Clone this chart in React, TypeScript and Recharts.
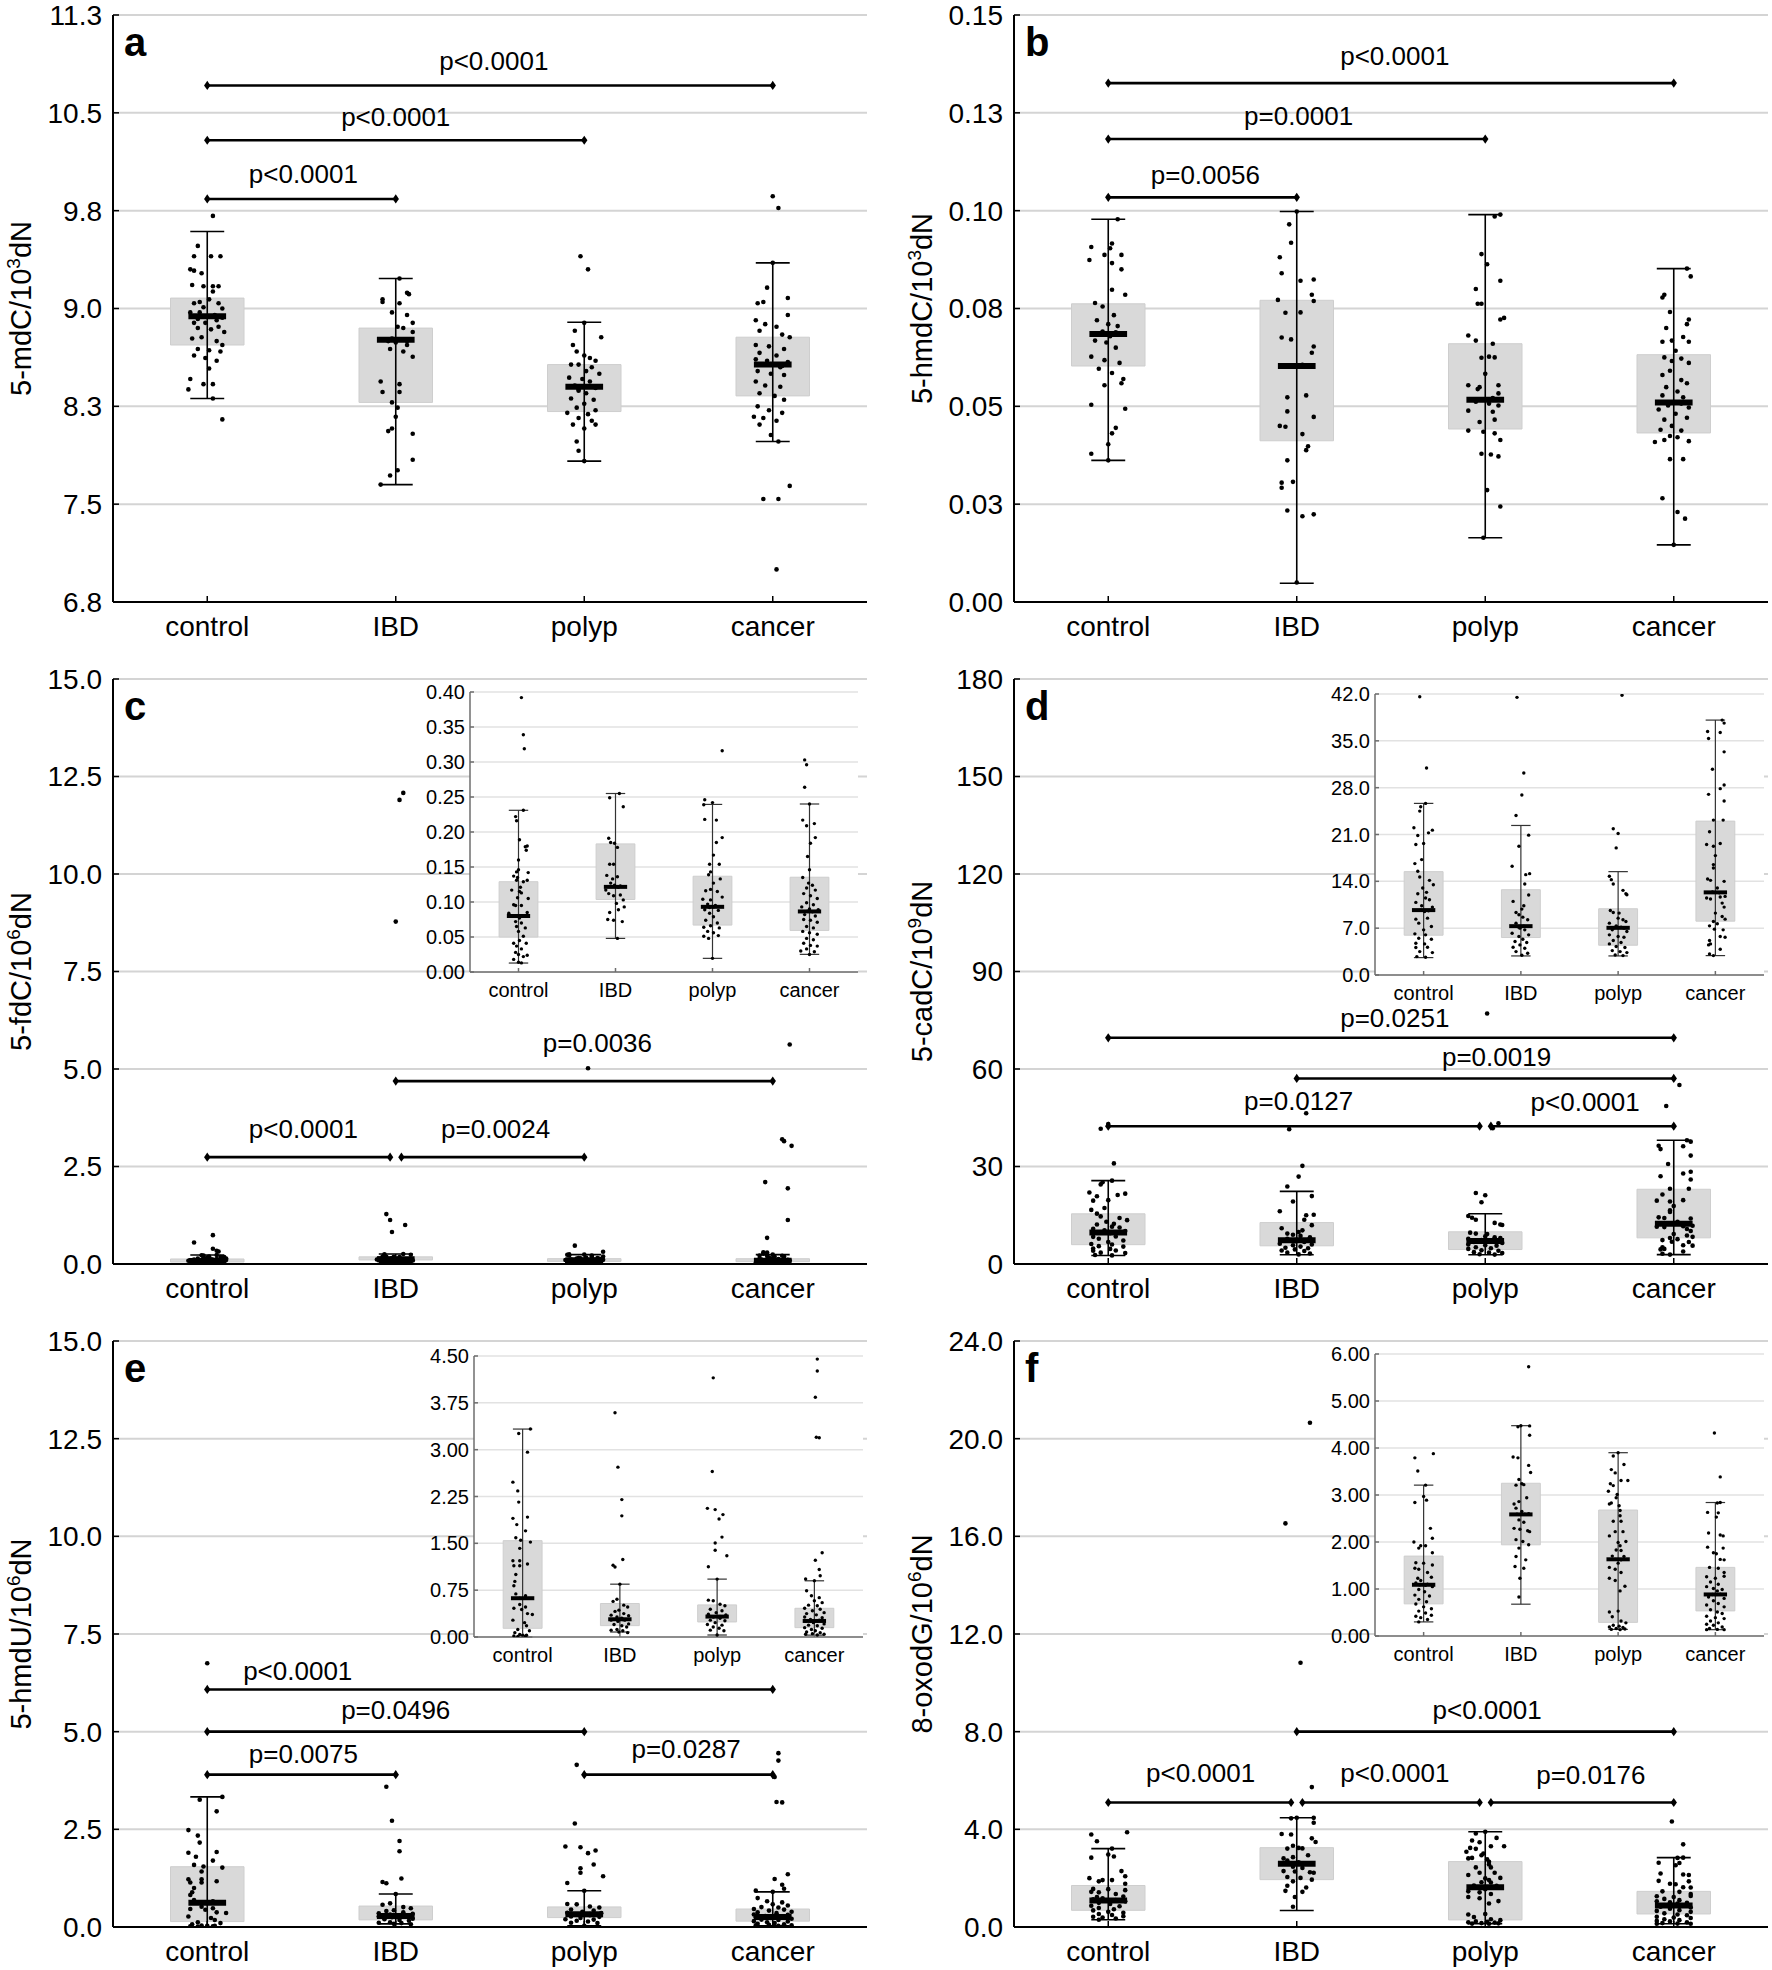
import React from 'react';
import { ComposedChart, XAxis, YAxis, CartesianGrid, Scatter, ReferenceArea, ReferenceLine } from 'recharts';

type Pt = [number, number]; // [value, jitter in category units]
type Stat = [number, number, number, number, number]; // whisker low, q1, median, q3, whisker high
// from group, to group, bracket height, label, label centre (category units), label baseline (value)
type Bracket = [number, number, number, string, number, number];

const GROUPS = ['control', 'IBD', 'polyp', 'cancer'];
const CAT_TICKS = [0, 1, 2, 3];
const FONT = '"Liberation Sans", Arial, Helvetica, sans-serif';

// ---------- a: 5-mdC ----------
const A_TICKS = [6.8, 7.55, 8.3, 9.05, 9.8, 10.55, 11.3];
const A_TICK_LABELS = ['6.8', '7.5', '8.3', '9.0', '9.8', '10.5', '11.3'];
const A_STATS: Stat[] = [
  [8.36, 8.77, 8.99, 9.13, 9.64],
  [7.7, 8.33, 8.81, 8.9, 9.28],
  [7.88, 8.26, 8.45, 8.62, 8.945],
  [8.03, 8.38, 8.62, 8.83, 9.4],
];
const A_BRACKETS: Bracket[] = [
  [0, 1, 9.89, 'p<0.0001', 0.51, 10.01],
  [0, 2, 10.34, 'p<0.0001', 1.0, 10.45],
  [0, 3, 10.76, 'p<0.0001', 1.52, 10.875],
];
const A_CONTROL: Pt[] = [[9.76,.03],[9.53,-.05],[9.45,-.07],[9.45,.02],[9.45,.07],[9.35,-.09],[9.34,-.07],[9.32,-.03],[9.23,-.08],[9.22,-.02],[9.22,.03],[9.22,.06],[9.18,.03],[9.12,.01],[9.1,-.04],[9.09,.06],[9.09,-.07],[9.06,-.02],[9.05,.08],[9.02,-.09],[9.02,-.04],[9.0,.04],[8.99,-.01],[8.99,.02],[8.98,.08],[8.97,-.05],[8.96,.05],[8.94,-.07],[8.94,-.01],[8.91,.06],[8.9,-.05],[8.89,.02],[8.87,.09],[8.83,-.03],[8.82,-.08],[8.8,.05],[8.77,.08],[8.74,-.05],[8.73,.01],[8.72,.07],[8.69,-.07],[8.67,-.01],[8.65,.05],[8.59,.01],[8.51,-.09],[8.47,-.02],[8.47,.03],[8.43,-.1],[8.36,.03],[8.2,.08]];
const A_IBD: Pt[] = [[9.28,.02],[9.17,.06],[9.16,.07],[9.12,-.07],[9.1,-.07],[9.09,.02],[9.02,-.02],[9.0,.06],[8.94,.09],[8.91,.01],[8.9,.04],[8.87,.09],[8.82,-.02],[8.81,.03],[8.8,-.04],[8.8,.06],[8.79,0],[8.77,.06],[8.74,-.03],[8.72,.04],[8.68,.09],[8.49,-.08],[8.47,.02],[8.41,-.07],[8.41,.02],[8.33,-.02],[8.29,.01],[8.22,0],[8.13,-.02],[8.11,-.04],[8.09,.09],[7.89,.09],[7.81,.01],[7.77,-.03],[7.7,-.08]];
const A_POLYP: Pt[] = [[9.45,-.02],[9.35,.02],[8.94,0],[8.88,-.05],[8.83,.09],[8.77,-.06],[8.72,-.04],[8.69,0],[8.67,.03],[8.65,.06],[8.62,-.07],[8.62,-.03],[8.6,.04],[8.57,.01],[8.55,.08],[8.52,-.08],[8.51,-.01],[8.49,.03],[8.46,-.05],[8.45,.01],[8.44,.06],[8.43,-.03],[8.42,-.03],[8.4,.01],[8.36,-.07],[8.35,.05],[8.32,0],[8.29,-.04],[8.27,.06],[8.25,-.09],[8.24,.02],[8.21,-.03],[8.19,.04],[8.16,-.06],[8.16,.06],[8.13,0],[8.03,-.04],[7.96,-.03],[7.88,0]];
const A_CANCER: Pt[] = [[9.91,0],[9.82,.03],[9.4,0],[9.21,-.03],[9.13,.08],[9.1,-.05],[9.09,-.08],[9.0,.08],[8.96,-.09],[8.93,-.04],[8.91,.02],[8.88,-.07],[8.85,.05],[8.83,.09],[8.77,-.09],[8.76,-.02],[8.74,.06],[8.71,-.07],[8.69,.02],[8.66,-.09],[8.65,-.03],[8.64,.08],[8.62,-.05],[8.62,.01],[8.61,.05],[8.6,.04],[8.57,-.08],[8.55,-.01],[8.54,.06],[8.49,-.09],[8.46,-.04],[8.45,.04],[8.4,-.07],[8.38,.01],[8.35,.06],[8.3,-.08],[8.27,-.02],[8.25,.05],[8.22,-.1],[8.21,-.05],[8.19,.02],[8.16,-.07],[8.08,-.01],[8.03,.03],[7.69,.09],[7.59,-.05],[7.59,.03],[7.05,.02]];

// ---------- b: 5-hmdC ----------
const B_TICKS = [0, 0.025, 0.05, 0.075, 0.1, 0.125, 0.15];
const B_TICK_LABELS = ['0.00', '0.03', '0.05', '0.08', '0.10', '0.13', '0.15'];
const B_STATS: Stat[] = [
  [0.0362, 0.0603, 0.0685, 0.0762, 0.0978],
  [0.0048, 0.0412, 0.0603, 0.0771, 0.0998],
  [0.0164, 0.0442, 0.0517, 0.066, 0.099],
  [0.0146, 0.0432, 0.051, 0.0632, 0.0852],
];
const B_BRACKETS: Bracket[] = [
  [0, 1, 0.1034, 'p=0.0056', 0.515, 0.1067],
  [0, 2, 0.1183, 'p=0.0001', 1.01, 0.1219],
  [0, 3, 0.1326, 'p<0.0001', 1.52, 0.1371],
];
const B_CONTROL: Pt[] = [[.0978,.05],[.0916,.02],[.0907,-.09],[.0904,.01],[.0887,-.02],[.0887,.07],[.0874,-.1],[.0866,.02],[.085,.07],[.0798,.02],[.0785,.09],[.0764,-.07],[.0755,-.03],[.0733,.03],[.072,-.06],[.071,0],[.0705,.05],[.0691,-.03],[.0689,.04],[.0687,-.04],[.0684,.08],[.0679,.01],[.0668,-.07],[.0663,-.01],[.065,.04],[.0627,-.09],[.0618,-.02],[.0611,.06],[.0596,-.05],[.0585,.02],[.057,.08],[.0559,.07],[.0554,-.02],[.0504,-.09],[.0494,.09],[.0445,.04],[.0431,.02],[.0403,0],[.0379,-.09],[.0362,0]];
const B_IBD: Pt[] = [[.0998,0],[.0965,-.04],[.0918,-.03],[.0881,-.09],[.0824,.09],[.0821,.02],[.084,-.08],[.0785,.08],[.0772,-.1],[.0769,.09],[.074,.02],[.0739,-.06],[.0676,-.08],[.0671,-.03],[.0653,.09],[.0637,.08],[.0606,.03],[.0603,-.04],[.0528,.05],[.0523,-.05],[.0487,-.05],[.0473,.09],[.045,-.09],[.0448,-.06],[.0429,.03],[.0398,.06],[.0388,.05],[.0362,-.05],[.0307,-.02],[.0305,-.08],[.0292,-.08],[.0234,-.05],[.0224,.09],[.0219,.03],[.005,0]];
const B_POLYP: Pt[] = [[.099,.08],[.0985,.05],[.0889,-.02],[.0863,.01],[.0821,.08],[.08,-.05],[.0762,-.04],[.0762,-.02],[.0726,.1],[.0722,.08],[.0681,-.09],[.0668,-.05],[.066,.04],[.0627,.02],[.0625,.05],[.0624,-.02],[.0583,0],[.0554,-.09],[.0554,.07],[.0549,-.03],[.0544,-.04],[.0533,.07],[.0521,.04],[.0517,-.03],[.0512,-.05],[.0507,.02],[.0502,.07],[.0489,-.09],[.0486,.04],[.0466,.05],[.046,-.03],[.0438,-.09],[.0435,-.01],[.0431,.05],[.0414,.08],[.0379,-.02],[.0377,.03],[.0372,.07],[.0286,.01],[.0244,.08],[.0164,-.01]];
const B_CANCER: Pt[] = [[.0852,.07],[.0832,.09],[.0785,-.05],[.0778,-.06],[.0741,-.02],[.0722,.08],[.071,.07],[.07,-.04],[.0677,.05],[.0668,-.01],[.0665,-.06],[.0665,.08],[.0642,.01],[.0625,-.05],[.0622,.04],[.0616,-.01],[.0611,.08],[.0591,-.02],[.058,-.06],[.0567,.04],[.0559,.07],[.0549,-.04],[.0538,.02],[.0528,-.06],[.0523,.05],[.051,-.04],[.0507,.04],[.0502,-.03],[.0497,.08],[.0492,-.08],[.0481,.01],[.0471,.07],[.0466,-.05],[.045,-.01],[.044,-.07],[.0438,.04],[.0424,-.02],[.0421,.02],[.0414,-.05],[.0411,.08],[.0409,-.1],[.0365,-.02],[.0365,.05],[.0265,-.06],[.023,.02],[.0213,.06],[.0146,0]];

// ---------- c: 5-fdC ----------
const C_TICKS = [0, 2.5, 5, 7.5, 10, 12.5, 15];
const C_TICK_LABELS = ['0.0', '2.5', '5.0', '7.5', '10.0', '12.5', '15.0'];
const C_INSET_TICKS = [0, 0.05, 0.1, 0.15, 0.2, 0.25, 0.3, 0.35, 0.4];
const C_INSET_LABELS = ['0.00', '0.05', '0.10', '0.15', '0.20', '0.25', '0.30', '0.35', '0.40'];
const C_STATS: Stat[] = [
  [0.0128, 0.05, 0.08, 0.129, 0.231],
  [0.048, 0.1036, 0.1216, 0.183, 0.255],
  [0.0195, 0.067, 0.0931, 0.1368, 0.2394],
  [0.0252, 0.0594, 0.0865, 0.1354, 0.24],
];
const C_BRACKETS: Bracket[] = [
  [0, 1, 2.74, 'p<0.0001', 0.51, 3.22],
  [1, 2, 2.74, 'p=0.0024', 1.53, 3.22],
  [1, 3, 4.69, 'p=0.0036', 2.07, 5.44],
];
const C_CONTROL: Pt[] = [[.74,.03],[.55,-.07],[.392,.03],[.339,.05],[.319,.06],[.231,.05],[.222,-.03],[.216,-.02],[.189,.01],[.18,.09],[.179,.07],[.174,.08],[.16,0],[.146,0],[.143,-.02],[.142,.1],[.137,-.05],[.135,-.01],[.131,-.02],[.131,.09],[.129,.05],[.121,.02],[.117,-.07],[.115,.01],[.113,.03],[.106,-.01],[.105,.1],[.096,-.05],[.095,-.03],[.095,.03],[.085,.09],[.084,-.1],[.08,.05],[.077,.01],[.072,-.03],[.07,.03],[.065,-.02],[.063,.07],[.058,0],[.051,.05],[.045,.01],[.041,-.05],[.041,.08],[.037,-.02],[.033,.03],[.028,-.03],[.025,0],[.024,.09],[.022,.05],[.018,-.05],[.014,0],[.013,.03]];
const C_IBD: Pt[] = [[12.08,.04],[11.9,.02],[8.78,0],[1.28,-.05],[1.13,-.03],[1.0,.05],[.82,-.02],[.255,.04],[.249,-.06],[.236,.08],[.191,-.07],[.185,-.05],[.184,-.01],[.178,.02],[.154,-.06],[.154,-.02],[.138,-.09],[.136,.02],[.133,-.03],[.127,-.05],[.124,-.01],[.123,.05],[.121,.03],[.117,-.1],[.112,-.07],[.11,.05],[.109,-.02],[.103,.08],[.098,.01],[.093,.09],[.089,.03],[.085,-.06],[.075,-.08],[.074,-.02],[.072,.07],[.048,.02]];
const C_POLYP: Pt[] = [[5.02,.02],[.47,-.05],[.316,.1],[.246,-.08],[.242,0],[.239,-.09],[.218,-.08],[.217,.04],[.192,.1],[.185,.04],[.167,.01],[.154,-.03],[.154,.07],[.143,-.02],[.139,-.04],[.133,.08],[.127,.01],[.118,-.02],[.116,-.07],[.115,.05],[.107,.1],[.104,-.1],[.103,-.02],[.097,-.05],[.095,.03],[.093,.01],[.092,-.03],[.089,-.08],[.088,.06],[.084,-.03],[.079,.01],[.074,-.07],[.07,.05],[.066,-.02],[.064,-.09],[.063,.07],[.058,-.05],[.056,.01],[.052,.06],[.051,-.09],[.048,-.04],[.0195,0]];
const C_CANCER: Pt[] = [[5.63,.09],[3.2,.05],[3.15,.06],[3.03,.1],[2.1,-.04],[1.94,.08],[1.13,.08],[.67,-.03],[.303,-.05],[.296,-.03],[.264,-.05],[.24,0],[.217,-.07],[.212,.05],[.209,-.03],[.192,.06],[.184,.01],[.165,-.02],[.146,0],[.135,-.07],[.127,-.01],[.124,.03],[.12,-.03],[.117,.06],[.112,-.06],[.109,.01],[.105,.08],[.099,-.03],[.096,.04],[.093,-.08],[.09,0],[.089,.09],[.087,-.02],[.086,.03],[.082,-.05],[.08,.06],[.075,-.06],[.074,.01],[.071,.08],[.065,-.03],[.063,.04],[.058,-.07],[.056,0],[.054,.08],[.048,-.03],[.046,.04],[.041,-.06],[.038,.01],[.037,.08],[.033,-.03],[.03,-.09],[.029,.05],[.025,0]];

// ---------- d: 5-cadC ----------
const D_TICKS = [0, 30, 60, 90, 120, 150, 180];
const D_TICK_LABELS = ['0', '30', '60', '90', '120', '150', '180'];
const D_INSET_TICKS = [0, 7, 14, 21, 28, 35, 42];
const D_INSET_LABELS = ['0.0', '7.0', '14.0', '21.0', '28.0', '35.0', '42.0'];
const D_STATS: Stat[] = [
  [2.6, 5.95, 9.7, 15.45, 25.65],
  [2.85, 5.6, 7.3, 12.75, 22.35],
  [2.85, 4.45, 7.05, 9.9, 15.45],
  [2.9, 8.05, 12.35, 23.0, 38.1],
];
const D_BRACKETS: Bracket[] = [
  [0, 3, 69.6, 'p=0.0251', 1.52, 73.0],
  [1, 3, 57.1, 'p=0.0019', 2.06, 60.9],
  [0, 2, 42.4, 'p=0.0127', 1.01, 47.4],
  [2, 3, 42.4, 'p<0.0001', 2.53, 47.2],
];
const D_CONTROL: Pt[] = [[43.1,0],[41.6,-.04],[30.95,.03],[25.65,.02],[25.15,-.03],[24.5,-.04],[22.0,-.1],[21.65,.09],[21.25,.05],[20.85,-.06],[19.65,0],[19.5,-.08],[17.25,-.02],[16.65,-.09],[15.5,-.06],[14.65,-.04],[14.15,.06],[13.5,.1],[13.0,-.01],[12.35,.03],[12.15,-.06],[11.5,.02],[11.25,.06],[10.85,-.08],[10.35,-.02],[10.15,.09],[9.7,-.03],[9.6,.05],[9.5,.01],[8.5,.04],[8.35,-.08],[7.75,-.05],[7.25,.08],[6.75,0],[6.15,-.09],[6.0,.02],[5.5,-.05],[5.35,.08],[4.75,-.08],[4.65,.01],[4.15,.04],[4.1,-.08],[3.5,-.04],[3.35,.09],[2.75,-.07],[2.65,.02]];
const D_IBD: Pt[] = [[46.4,.05],[41.5,-.04],[30.2,.03],[26.9,.01],[23.85,-.05],[20.9,.08],[19.25,-.02],[16.25,-.09],[15.15,.09],[15.0,.05],[13.6,.04],[11.95,.08],[11.0,-.08],[10.35,.03],[9.85,.01],[9.35,-.05],[9.0,-.02],[8.65,.02],[8.25,.07],[7.75,-.05],[7.3,.03],[7.2,-.03],[7.0,-.01],[6.75,.04],[6.25,-.09],[6.0,.08],[5.75,-.02],[5.35,.02],[5.0,-.06],[4.85,.06],[4.5,-.01],[4.15,-.08],[4.0,.04],[3.5,-.05],[3.25,.07],[2.95,.01]];
const D_POLYP: Pt[] = [[77.1,.01],[43.3,.07],[41.8,.04],[21.85,-.05],[21.15,0],[19.0,-.02],[14.75,-.09],[14.25,-.07],[13.6,-.05],[12.65,.05],[12.15,.08],[12.0,.09],[9.65,-.08],[9.35,-.05],[9.25,.01],[8.5,0],[8.25,.05],[8.0,.08],[7.75,-.09],[7.35,-.02],[7.15,.03],[7.05,-.04],[7.0,.06],[6.75,-.06],[6.5,.09],[6.0,-.09],[5.75,0],[5.65,.06],[5.15,-.05],[4.85,.03],[4.65,-.09],[4.25,-.02],[4.1,.07],[3.65,-.06],[3.5,.02],[3.35,.09],[3.0,-.03],[2.9,.05]];
const D_CANCER: Pt[] = [[55.1,.03],[48.6,-.04],[38.1,.07],[37.65,.09],[36.4,-.08],[36.25,.05],[35.35,-.07],[33.35,.09],[30.75,-.03],[28.4,.09],[27.85,.05],[27.0,-.07],[26.0,.09],[23.15,-.02],[23.15,.08],[21.4,-.06],[19.65,.05],[19.5,-.09],[19.25,-.02],[17.85,0],[16.5,-.02],[16.0,-.02],[14.35,-.08],[14.15,-.05],[14.0,.09],[13.0,.02],[12.4,-.03],[12.3,.04],[11.75,.1],[11.65,.05],[11.5,-.09],[11.35,-.05],[10.75,.07],[10.15,.09],[9.25,0],[8.75,.07],[8.35,.1],[8.0,-.02],[7.65,.02],[7.35,-.06],[6.85,-.01],[6.75,.08],[5.75,.05],[5.65,.1],[5.15,-.06],[4.65,-.05],[4.5,-.07],[3.85,.05],[3.15,-.06],[2.9,-.02]];

// ---------- e: 5-hmdU ----------
const E_TICKS = [0, 2.5, 5, 7.5, 10, 12.5, 15];
const E_TICK_LABELS = ['0.0', '2.5', '5.0', '7.5', '10.0', '12.5', '15.0'];
const E_INSET_TICKS = [0, 0.75, 1.5, 2.25, 3, 3.75, 4.5];
const E_INSET_LABELS = ['0.00', '0.75', '1.50', '2.25', '3.00', '3.75', '4.50'];
const E_STATS: Stat[] = [
  [0.0, 0.139, 0.621, 1.543, 3.33],
  [0.08, 0.182, 0.284, 0.536, 0.846],
  [0.032, 0.241, 0.327, 0.514, 0.927],
  [0.03, 0.15, 0.257, 0.46, 0.9],
];
const E_BRACKETS: Bracket[] = [
  [0, 3, 6.08, 'p<0.0001', 0.48, 6.33],
  [0, 2, 5.0, 'p=0.0496', 1.0, 5.33],
  [0, 1, 3.9, 'p=0.0075', 0.51, 4.19],
  [2, 3, 3.9, 'p=0.0287', 2.54, 4.33],
];
const E_CONTROL: Pt[] = [[6.75,0],[3.33,.08],[3.26,-.04],[2.96,.05],[2.48,-.1],[2.34,-.05],[2.16,-.04],[1.92,.05],[1.9,-.1],[1.8,-.06],[1.7,.03],[1.59,-.07],[1.55,-.02],[1.52,.08],[1.42,-.03],[1.22,-.1],[1.22,-.03],[1.17,.05],[1.14,-.09],[1.14,-.03],[1.0,-.07],[.89,-.08],[.82,-.09],[.69,-.07],[.66,.03],[.63,.03],[.62,-.03],[.52,-.03],[.48,.03],[.46,-.09],[.44,-.01],[.375,.05],[.36,.1],[.27,-.1],[.23,.02],[.18,.04],[.12,-.05],[.1,.07],[.07,-.08],[.04,-.03],[.03,0],[.03,.04],[.016,-.09],[.016,.03],[.01,-.05]];
const E_IBD: Pt[] = [[3.59,-.05],[2.72,-.02],[2.2,.02],[1.94,.02],[1.24,.03],[1.15,-.07],[1.12,-.05],[.846,0],[.605,-.03],[.57,-.07],[.51,.04],[.48,.08],[.43,-.01],[.41,-.05],[.375,.04],[.35,-.09],[.34,.09],[.32,-.03],[.3,.02],[.284,-.03],[.28,.03],[.28,0],[.27,-.09],[.27,.05],[.25,-.02],[.21,.09],[.2,-.06],[.18,.02],[.16,.07],[.12,-.03],[.11,-.09],[.1,.03],[.08,-.01],[.07,.08]];
const E_POLYP: Pt[] = [[4.15,-.04],[2.65,-.05],[2.06,-.1],[2.04,-.02],[1.96,.06],[1.89,.02],[1.6,.05],[1.505,-.02],[1.39,-.02],[1.3,.1],[1.125,-.09],[.927,0],[.59,-.09],[.58,-.04],[.525,.03],[.5,.08],[.445,-.07],[.42,.05],[.39,-.01],[.365,-.09],[.355,.09],[.33,.03],[.327,-.03],[.32,-.04],[.3,.03],[.27,-.07],[.26,.08],[.23,-.02],[.2,-.1],[.19,.05],[.16,-.04],[.14,.02],[.11,-.07],[.1,.07],[.032,0]];
const E_CANCER: Pt[] = [[4.45,.03],[4.26,.03],[3.84,.01],[3.2,.02],[3.19,.05],[1.35,.08],[1.23,.01],[1.08,.05],[.98,.06],[.93,-.09],[.9,0],[.74,-.08],[.66,-.03],[.63,.05],[.58,0],[.55,.08],[.51,-.06],[.5,.03],[.46,-.1],[.445,.06],[.42,-.02],[.39,.1],[.375,-.08],[.355,.02],[.32,-.1],[.31,.08],[.28,-.04],[.27,.05],[.26,.03],[.257,-.04],[.255,0],[.25,-.09],[.23,-.01],[.21,.1],[.19,-.06],[.18,.03],[.15,-.1],[.14,.08],[.12,-.03],[.1,.01],[.08,-.08],[.07,.06],[.054,-.02],[.043,-.09],[.043,.1],[.032,.03]];

// ---------- f: 8-oxodG ----------
const F_TICKS = [0, 4, 8, 12, 16, 20, 24];
const F_TICK_LABELS = ['0.0', '4.0', '8.0', '12.0', '16.0', '20.0', '24.0'];
const F_INSET_TICKS = [0, 1, 2, 3, 4, 5, 6];
const F_INSET_LABELS = ['0.00', '1.00', '2.00', '3.00', '4.00', '5.00', '6.00'];
const F_STATS: Stat[] = [
  [0.3, 0.684, 1.09, 1.7, 3.21],
  [0.677, 1.94, 2.587, 3.25, 4.475],
  [0.14, 0.29, 1.632, 2.68, 3.9],
  [0.135, 0.534, 0.884, 1.46, 2.84],
];
const F_BRACKETS: Bracket[] = [
  [1, 3, 8.0, 'p<0.0001', 2.01, 8.52],
  [0, 1, 5.1, 'p<0.0001', 0.49, 5.92],
  [1, 2, 5.1, 'p<0.0001', 1.52, 5.92],
  [2, 3, 5.1, 'p=0.0176', 2.56, 5.85],
];
const F_CONTROL: Pt[] = [[3.88,.1],[3.79,-.09],[3.51,-.06],[3.21,.02],[2.97,0],[2.89,.03],[2.84,-.09],[2.29,.07],[2.08,.09],[2.0,-.1],[1.92,-.03],[1.92,.02],[1.87,-.05],[1.77,.09],[1.56,-.08],[1.55,0],[1.51,.09],[1.44,-.09],[1.42,-.05],[1.35,.04],[1.25,.08],[1.23,-.06],[1.18,-.03],[1.13,-.08],[1.1,.04],[1.09,-.04],[1.08,.02],[1.05,.09],[.99,-.05],[.94,.01],[.87,-.09],[.85,.06],[.78,-.05],[.73,.03],[.68,-.08],[.62,0],[.58,.08],[.53,-.05],[.49,.02],[.44,.08],[.42,-.08],[.39,-.03],[.35,.04],[.3,-.05]];
const F_IBD: Pt[] = [[20.65,.07],[16.53,-.06],[10.82,.02],[5.73,.08],[4.475,0],[4.47,.09],[4.45,-.03],[4.27,.09],[3.81,-.08],[3.79,-.03],[3.63,.08],[3.48,.1],[3.33,-.02],[3.24,.01],[3.22,.03],[3.21,-.05],[2.94,.06],[2.86,-.02],[2.81,-.07],[2.72,-.05],[2.65,.01],[2.6,.08],[2.59,-.04],[2.59,.04],[2.47,-.02],[2.42,.03],[2.29,-.07],[2.27,-.01],[2.24,.07],[2.22,.09],[2.05,-.05],[2.01,.02],[1.94,.08],[1.87,-.02],[1.69,-.05],[1.62,.05],[1.48,-.06],[1.44,.03],[1.23,-.01],[.83,-.02]];
const F_POLYP: Pt[] = [[3.9,0],[3.83,-.05],[3.65,.06],[3.54,-.07],[3.47,-.03],[3.31,.03],[3.31,.1],[3.24,-.08],[3.2,-.05],[3.08,-.1],[3.01,-.01],[2.94,-.02],[2.83,-.07],[2.81,-.09],[2.77,.01],[2.67,.02],[2.56,.02],[2.44,-.05],[2.44,.03],[2.22,-.03],[2.22,.05],[2.13,-.09],[2.01,.08],[1.99,0],[1.92,.02],[1.83,-.02],[1.82,.03],[1.7,-.06],[1.69,.06],[1.63,-.03],[1.62,.03],[1.55,0],[1.46,-.09],[1.42,-.03],[1.35,.03],[1.23,-.09],[1.18,-.03],[1.06,.07],[.96,.02],[.53,0],[.51,-.09],[.41,-.06],[.32,.03],[.28,.08],[.23,-.05],[.21,.01],[.19,-.09],[.18,.05],[.16,-.02],[.15,.07],[.14,-.07],[.135,.02]];
const F_CANCER: Pt[] = [[4.32,-.01],[3.385,.05],[2.84,.05],[2.83,.02],[2.63,-.08],[2.62,.03],[2.53,.01],[2.19,-.07],[2.15,.05],[2.13,.08],[1.89,-.08],[1.87,.08],[1.77,-.02],[1.75,.01],[1.63,.05],[1.62,.09],[1.46,-.06],[1.44,.03],[1.35,.09],[1.27,.09],[1.26,-.09],[1.23,0],[1.15,-.05],[1.1,.03],[1.05,-.09],[1.01,-.02],[.99,.07],[.96,.02],[.89,.05],[.884,-.03],[.88,0],[.83,-.07],[.8,.09],[.75,-.02],[.69,.03],[.66,-.09],[.62,.09],[.56,-.05],[.51,.02],[.48,.07],[.42,-.09],[.39,0],[.37,.09],[.32,-.05],[.28,.03],[.25,-.09],[.23,-.02],[.19,.07],[.16,-.06],[.14,.02],[.135,.09],[.135,-.09]];

const MAIN = {
  axisW: 113, top: 15, axisH: 50, right: 5, tick: 6, yMargin: 17, xMargin: 20, font: 28,
  boxHalf: 0.195, medHalf: 0.1, capHalf: 0.09, dotR: 2.3, medW: 6, whisker: '#000', whiskerW: 1.6,
  frame: '#000', frameW: 2, grid: '#d4d4d4', gridW: 2, bg: 'none',
};
const INSET = {
  axisW: 70, top: 12, axisH: 40, right: 6, tick: 4, yMargin: 9, xMargin: 15, font: 20,
  boxHalf: 0.2, medHalf: 0.12, capHalf: 0.1, dotR: 1.7, medW: 4, whisker: '#333', whiskerW: 1.2,
  frame: '#6e6e6e', frameW: 1.5, grid: '#e2e2e2', gridW: 1.5, bg: '#ffffff',
};

const GAP = 0.03;

function BoxPlot(props: {
  x: number; y: number; w: number; h: number; inset?: boolean;
  groups: Pt[][]; stats: Stat[]; domain: [number, number]; ticks: number[]; labels: string[]; brackets?: Bracket[];
}) {
  const s = props.inset ? INSET : MAIN;
  const width = s.axisW + props.w + s.right;
  const height = s.top + props.h + s.axisH;
  const [lo, hi] = props.domain;
  const dots = props.groups.flatMap((g, gi) =>
    g.filter(([v]) => v >= lo && v <= hi).map(([v, dx]) => ({ x: gi + dx, y: v })));
  const brackets = props.brackets || [];
  const ends = brackets.map(([a, b, yv]) => {
    const shareA = brackets.some((o) => o[2] === yv && o[1] === a);
    const shareB = brackets.some((o) => o[2] === yv && o[0] === b);
    return { x1: a + (shareA ? GAP : 0), x2: b - (shareB ? GAP : 0), y: yv };
  });
  const endPts = ends.flatMap((e) => [{ x: e.x1, y: e.y }, { x: e.x2, y: e.y }]);
  const labelPts = brackets.map((b) => ({ x: b[4], y: b[5], label: b[3] }));
  const tickStyle = { fontSize: s.font, fill: '#000', fontFamily: FONT };
  const axisLine = { stroke: s.frame, strokeWidth: s.frameW };
  const tickLine = { stroke: s.frame, strokeWidth: 1.5 };

  return (
    <div style={{ position: 'absolute', left: props.x - s.axisW, top: props.y - s.top, width, height }}>
      <ComposedChart width={width} height={height} margin={{ top: s.top, right: s.right, bottom: 0, left: 0 }}>
        <CartesianGrid vertical={false} stroke={s.grid} strokeWidth={s.gridW} fill={s.bg} fillOpacity={1} />
        <XAxis dataKey="x" type="number" domain={[-0.5, 3.5]} ticks={CAT_TICKS} interval={0} allowDataOverflow
          tickFormatter={(v: number) => GROUPS[Math.round(v)]} height={s.axisH} tickSize={-s.tick} tickMargin={s.xMargin}
          tick={tickStyle} axisLine={axisLine} tickLine={tickLine} />
        <YAxis dataKey="y" type="number" domain={props.domain} ticks={props.ticks} interval={0} allowDataOverflow
          tickFormatter={(v: number, i: number) => props.labels[props.ticks.indexOf(v)] ?? props.labels[i]}
          width={s.axisW} tickSize={-s.tick} tickMargin={s.yMargin} tick={tickStyle} axisLine={axisLine} tickLine={tickLine} />
        <XAxis xAxisId="top" orientation="top" type="number" domain={[-0.5, 3.5]} ticks={CAT_TICKS} interval={0}
          allowDataOverflow tick={false} height={0} tickSize={-s.tick} axisLine={axisLine} tickLine={tickLine} />
        <YAxis yAxisId="right" orientation="right" type="number" domain={props.domain} ticks={props.ticks} interval={0}
          allowDataOverflow tick={false} width={0} tickSize={-s.tick} axisLine={axisLine} tickLine={tickLine} />
        {props.stats.map((st, i) => (
          <ReferenceArea key={'box' + i} x1={i - s.boxHalf} x2={i + s.boxHalf} y1={st[1]} y2={st[3]}
            fill="#d9d9d9" fillOpacity={1} stroke="#cecece" strokeWidth={1} ifOverflow="visible" />
        ))}
        {props.stats.map((st, i) => (
          <ReferenceLine key={'wh' + i} segment={[{ x: i, y: st[0] }, { x: i, y: st[4] }]}
            stroke={s.whisker} strokeWidth={s.whiskerW} ifOverflow="visible" />
        ))}
        {props.stats.map((st, i) => (
          <ReferenceLine key={'cl' + i} segment={[{ x: i - s.capHalf, y: st[0] }, { x: i + s.capHalf, y: st[0] }]}
            stroke={s.whisker} strokeWidth={s.whiskerW} ifOverflow="visible" />
        ))}
        {props.stats.map((st, i) => (
          <ReferenceLine key={'ch' + i} segment={[{ x: i - s.capHalf, y: st[4] }, { x: i + s.capHalf, y: st[4] }]}
            stroke={s.whisker} strokeWidth={s.whiskerW} ifOverflow="visible" />
        ))}
        <Scatter data={dots} isAnimationActive={false}
          shape={(p: any) => <circle cx={p.cx} cy={p.cy} r={s.dotR} fill="#000" />} />
        {props.stats.map((st, i) => (
          <ReferenceLine key={'md' + i} segment={[{ x: i - s.medHalf, y: st[2] }, { x: i + s.medHalf, y: st[2] }]}
            stroke="#000" strokeWidth={s.medW} ifOverflow="visible" />
        ))}
        {ends.map((e, i) => (
          <ReferenceLine key={'br' + i} segment={[{ x: e.x1, y: e.y }, { x: e.x2, y: e.y }]}
            stroke="#000" strokeWidth={2.6} ifOverflow="visible" />
        ))}
        {endPts.length > 0 && (
          <Scatter data={endPts} isAnimationActive={false}
            shape={(p: any) => (
              <path d={`M${p.cx - 3.2},${p.cy} L${p.cx},${p.cy - 4.6} L${p.cx + 3.2},${p.cy} L${p.cx},${p.cy + 4.6} Z`} fill="#000" />
            )} />
        )}
        {labelPts.length > 0 && (
          <Scatter data={labelPts} isAnimationActive={false}
            shape={(p: any) => (
              <text x={p.cx} y={p.cy} textAnchor="middle" fontSize={26} fontFamily={FONT} fill="#000">
                {p.payload.label}
              </text>
            )} />
        )}
      </ComposedChart>
    </div>
  );
}

const COL_X = [113, 1014];
const ROW_Y = [15, 679, 1341];
const ROW_H = [587, 585, 586];
const PLOT_W = 754;

const PANELS = [
  { letter: 'a', title: ['5-mdC/10', '3', 'dN'], col: 0, row: 0, groups: [A_CONTROL, A_IBD, A_POLYP, A_CANCER], stats: A_STATS, domain: [6.8, 11.3], ticks: A_TICKS, labels: A_TICK_LABELS, brackets: A_BRACKETS },
  { letter: 'b', title: ['5-hmdC/10', '3', 'dN'], col: 1, row: 0, groups: [B_CONTROL, B_IBD, B_POLYP, B_CANCER], stats: B_STATS, domain: [0, 0.15], ticks: B_TICKS, labels: B_TICK_LABELS, brackets: B_BRACKETS },
  { letter: 'c', title: ['5-fdC/10', '6', 'dN'], col: 0, row: 1, groups: [C_CONTROL, C_IBD, C_POLYP, C_CANCER], stats: C_STATS, domain: [0, 15], ticks: C_TICKS, labels: C_TICK_LABELS, brackets: C_BRACKETS },
  { letter: 'd', title: ['5-cadC/10', '9', 'dN'], col: 1, row: 1, groups: [D_CONTROL, D_IBD, D_POLYP, D_CANCER], stats: D_STATS, domain: [0, 180], ticks: D_TICKS, labels: D_TICK_LABELS, brackets: D_BRACKETS },
  { letter: 'e', title: ['5-hmdU/10', '6', 'dN'], col: 0, row: 2, groups: [E_CONTROL, E_IBD, E_POLYP, E_CANCER], stats: E_STATS, domain: [0, 15], ticks: E_TICKS, labels: E_TICK_LABELS, brackets: E_BRACKETS },
  { letter: 'f', title: ['8-oxodG/10', '6', 'dN'], col: 1, row: 2, groups: [F_CONTROL, F_IBD, F_POLYP, F_CANCER], stats: F_STATS, domain: [0, 24], ticks: F_TICKS, labels: F_TICK_LABELS, brackets: F_BRACKETS },
];

const INSETS = [
  { x: 470, y: 692, w: 388, h: 280, groups: [C_CONTROL, C_IBD, C_POLYP, C_CANCER], stats: C_STATS, domain: [0, 0.4], ticks: C_INSET_TICKS, labels: C_INSET_LABELS },
  { x: 1375, y: 694, w: 389, h: 281, groups: [D_CONTROL, D_IBD, D_POLYP, D_CANCER], stats: D_STATS, domain: [0, 42], ticks: D_INSET_TICKS, labels: D_INSET_LABELS },
  { x: 474, y: 1356, w: 389, h: 281, groups: [E_CONTROL, E_IBD, E_POLYP, E_CANCER], stats: E_STATS, domain: [0, 4.5], ticks: E_INSET_TICKS, labels: E_INSET_LABELS },
  { x: 1375, y: 1354, w: 389, h: 282, groups: [F_CONTROL, F_IBD, F_POLYP, F_CANCER], stats: F_STATS, domain: [0, 6], ticks: F_INSET_TICKS, labels: F_INSET_LABELS },
];

export default function App() {
  return (
    <div style={{ position: 'absolute', left: 0, top: 0, width: 1772, height: 1970, background: '#fff', overflow: 'hidden', fontFamily: FONT }}>
      {PANELS.map((p) => (
        <BoxPlot key={p.letter} x={COL_X[p.col]} y={ROW_Y[p.row]} w={PLOT_W} h={ROW_H[p.row]}
          groups={p.groups} stats={p.stats} domain={p.domain as [number, number]} ticks={p.ticks} labels={p.labels} brackets={p.brackets} />
      ))}
      {INSETS.map((p, i) => (
        <BoxPlot key={'inset' + i} inset x={p.x} y={p.y} w={p.w} h={p.h}
          groups={p.groups} stats={p.stats} domain={p.domain as [number, number]} ticks={p.ticks} labels={p.labels} />
      ))}
      <svg width={1772} height={1970} style={{ position: 'absolute', left: 0, top: 0, pointerEvents: 'none' }}>
        {PANELS.map((p) => {
          const px = COL_X[p.col];
          const py = ROW_Y[p.row];
          const tx = px - 82;
          const ty = py + ROW_H[p.row] / 2;
          return (
            <g key={'t' + p.letter}>
              <text x={px + 11} y={py + 41} fontSize={40} fontWeight="bold" fontFamily={FONT} fill="#000">{p.letter}</text>
              <text x={tx} y={ty} transform={`rotate(-90 ${tx} ${ty})`} textAnchor="middle" fontSize={29} fontFamily={FONT} fill="#000">
                {p.title[0]}
                <tspan dy={-11} fontSize={19}>{p.title[1]}</tspan>
                <tspan dy={11}>{p.title[2]}</tspan>
              </text>
            </g>
          );
        })}
      </svg>
    </div>
  );
}
